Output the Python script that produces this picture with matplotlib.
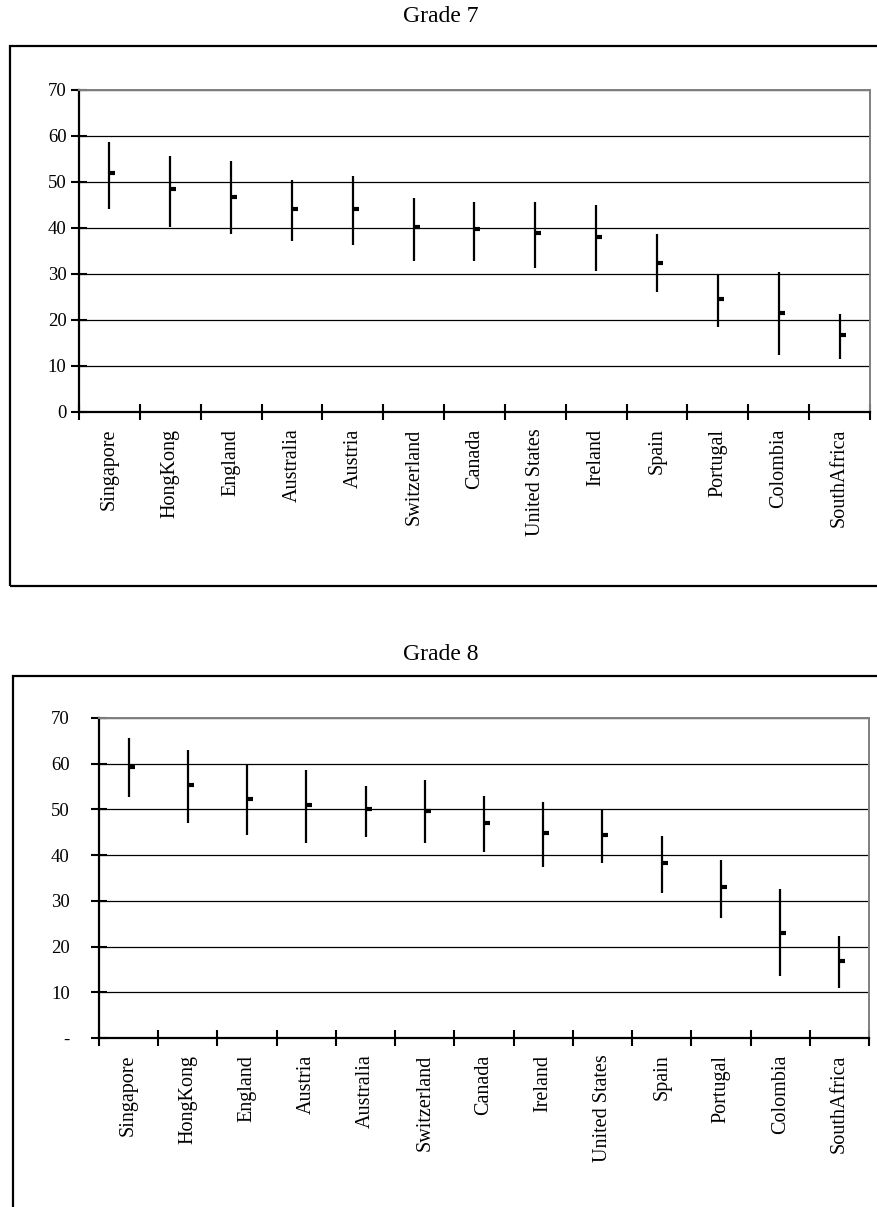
import numpy as np
import matplotlib
matplotlib.use("Agg")
import matplotlib.pyplot as plt
from matplotlib.markers import TICKRIGHT

plt.rcParams["font.family"] = ["Liberation Serif", "DejaVu Serif"]

# ----- Data -----

g7_countries = ["Singapore", "HongKong", "England", "Australia", "Austria",
                "Switzerland", "Canada", "United States", "Ireland", "Spain",
                "Portugal", "Colombia", "SouthAfrica"]
g7_high = [58.7, 55.7, 54.5, 50.5, 51.4, 46.6, 45.7, 45.7, 44.9, 38.8,
           30.1, 30.5, 21.3]
g7_low = [44.2, 40.2, 38.6, 37.2, 36.4, 32.8, 32.9, 31.2, 30.7, 26.0,
          18.5, 12.5, 11.6]
g7_mean = [52.0, 48.4, 46.8, 44.1, 44.1, 40.2, 39.8, 38.9, 38.1, 32.4,
           24.6, 21.5, 16.8]
g7_ylabels = ["0", "10", "20", "30", "40", "50", "60", "70"]

g8_countries = ["Singapore", "HongKong", "England", "Austria", "Australia",
                "Switzerland", "Canada", "Ireland", "United States", "Spain",
                "Portugal", "Colombia", "SouthAfrica"]
g8_high = [65.6, 63.1, 60.0, 58.7, 55.1, 56.5, 53.0, 51.7, 50.0, 44.2,
           39.0, 32.5, 22.4]
g8_low = [52.7, 47.1, 44.5, 42.7, 44.0, 42.7, 40.6, 37.5, 38.3, 31.8,
          26.2, 13.5, 10.9]
g8_mean = [59.3, 55.3, 52.2, 50.9, 50.2, 49.7, 47.1, 44.9, 44.4, 38.3,
           33.1, 23.0, 16.9]
g8_ylabels = ["-", "10", "20", "30", "40", "50", "60", "70"]

W, H = 878, 1207


def fx(px):
    return px / W


def fy(py):
    return 1 - py / H


def plot_panel(fig, rect, countries, high, low, mean, ylabels, ypad):
    """ High-low-mean chart for one grade """
    ax = fig.add_axes(rect)
    n = len(countries)
    x = np.arange(n) + 0.5

    ax.vlines(x, low, high, color="black", lw=1.6, zorder=3)
    ax.plot(x, mean, ls="none", marker=TICKRIGHT, ms=4, mew=3,
            color="black", zorder=4)

    ax.set_xlim(0, n)
    ax.set_ylim(0, 70)

    # x: ticks on category edges, names centred between them
    ax.set_xticks(np.arange(n + 1))
    ax.set_xticklabels([])
    ax.set_xticks(x, minor=True)
    ax.set_xticklabels(countries, minor=True, rotation=90, fontsize=14.5)
    ax.tick_params(axis="x", which="major", direction="inout", length=11.5,
                   width=1.5)
    ax.tick_params(axis="x", which="minor", length=0, pad=12)

    ax.set_yticks(np.arange(0, 71, 10))
    ax.set_yticklabels(ylabels, fontsize=13.5)
    ax.tick_params(axis="y", direction="inout", length=12, width=1.5,
                   pad=ypad)

    ax.yaxis.grid(True, color="black", lw=0.9)
    ax.set_axisbelow(True)

    for side in ["left", "bottom"]:
        ax.spines[side].set_linewidth(1.6)
        ax.spines[side].set_color("black")
    for side in ["top", "right"]:
        ax.spines[side].set_linewidth(1.4)
        ax.spines[side].set_color("#808080")
    return ax


fig = plt.figure(figsize=(W / 100, H / 100), dpi=100)

# ramecky kolem grafu
fig.add_artist(plt.Rectangle((fx(10), fy(586)), fx(880) - fx(10),
                             fy(46) - fy(586), transform=fig.transFigure,
                             fill=False, lw=1.6, ec="black"))
fig.add_artist(plt.Rectangle((fx(13), fy(1220)), fx(880) - fx(13),
                             fy(676) - fy(1220), transform=fig.transFigure,
                             fill=False, lw=1.6, ec="black"))

fig.text(fx(441), fy(16), "Grade 7", ha="center", va="center", fontsize=17)
fig.text(fx(441), fy(655), "Grade 8", ha="center", va="center", fontsize=17)

plot_panel(fig, [fx(79), fy(412), fx(870) - fx(79), fy(90) - fy(412)],
           g7_countries, g7_high, g7_low, g7_mean, g7_ylabels, 3)
plot_panel(fig, [fx(99), fy(1038), fx(869) - fx(99), fy(718) - fy(1038)],
           g8_countries, g8_high, g8_low, g8_mean, g8_ylabels, 15)

fig.savefig("out.png", dpi=100)
